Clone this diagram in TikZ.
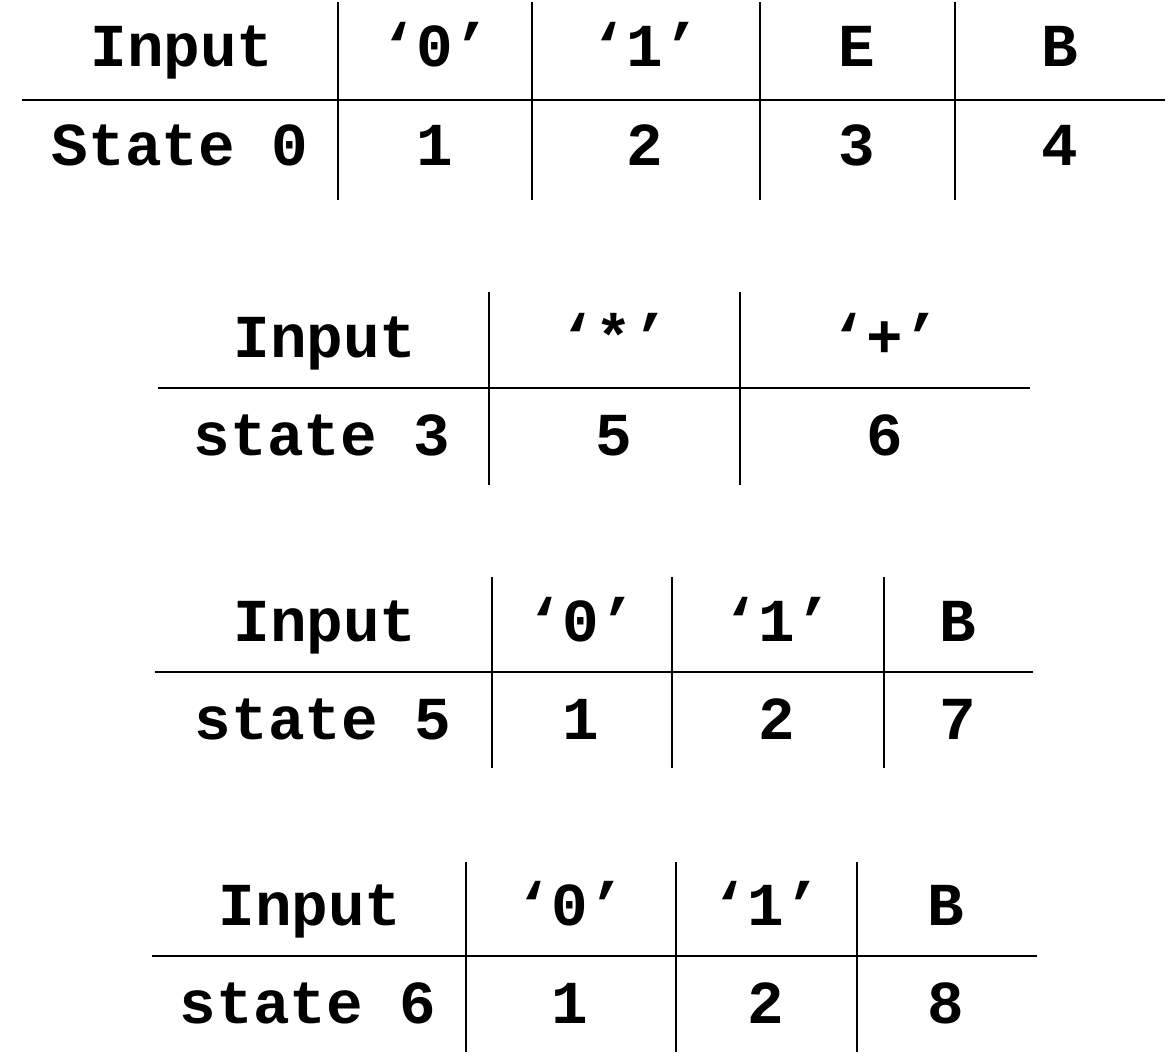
\documentclass[tikz,border=0pt]{standalone}
\usepackage{fontspec}
\setmonofont{Liberation Mono}
\tikzset{
  cell/.style={anchor=base, inner sep=0pt, font=\fontsize{61}{61}\selectfont\ttfamily\bfseries},
  rule/.style={line width=2.2pt, black},
}
\begin{document}
\begin{tikzpicture}[x=1pt,y=-1pt]
\useasboundingbox (0,0) rectangle (1170,1060);
% state 0
\draw[rule] (22,100) -- (1165,100);
\draw[rule] (338,2) -- (338,200);
\draw[rule] (532,2) -- (532,200);
\draw[rule] (760,2) -- (760,200);
\draw[rule] (955,2) -- (955,200);
\node[cell] (ain) at (182,66) {Input};
\node[cell] (aq0) at (435,66) {‘0’};
\node[cell] (aq1) at (645,66) {‘1’};
\node[cell] (aqe) at (857,66) {E};
\node[cell] (aqb) at (1060,66) {B};
\node[cell] (ast) at (180,165) {State 0};
\node[cell] (av1) at (435,165) {1};
\node[cell] (av2) at (645,165) {2};
\node[cell] (av3) at (857,165) {3};
\node[cell] (av4) at (1060,165) {4};
% state 3
\draw[rule] (158,388) -- (1030,388);
\draw[rule] (489,292) -- (489,485);
\draw[rule] (740,292) -- (740,485);
\node[cell] (bin) at (325,357) {Input};
\node[cell] (bqs) at (614,357) {‘*’};
\node[cell] (bqp) at (885,357) {‘+’};
\node[cell] (bst) at (322,455) {state 3};
\node[cell] (bv5) at (614,455) {5};
\node[cell] (bv6) at (885,455) {6};
% state 5
\draw[rule] (155,672) -- (1033,672);
\draw[rule] (492,577) -- (492,768);
\draw[rule] (672,577) -- (672,768);
\draw[rule] (884,577) -- (884,768);
\node[cell] (cin) at (325,641) {Input};
\node[cell] (cq0) at (581,641) {‘0’};
\node[cell] (cq1) at (777,641) {‘1’};
\node[cell] (cqb) at (958,641) {B};
\node[cell] (cst) at (323,739) {state 5};
\node[cell] (cv1) at (581,739) {1};
\node[cell] (cv2) at (777,739) {2};
\node[cell] (cv7) at (958,739) {7};
% state 6
\draw[rule] (152,956) -- (1037,956);
\draw[rule] (466,862) -- (466,1052);
\draw[rule] (676,862) -- (676,1052);
\draw[rule] (857,862) -- (857,1052);
\node[cell] (din) at (310,925) {Input};
\node[cell] (dq0) at (570,925) {‘0’};
\node[cell] (dq1) at (766,925) {‘1’};
\node[cell] (dqb) at (946,925) {B};
\node[cell] (dst) at (308,1023) {state 6};
\node[cell] (dv1) at (570,1023) {1};
\node[cell] (dv2) at (766,1023) {2};
\node[cell] (dv8) at (946,1023) {8};
\end{tikzpicture}
\end{document}
